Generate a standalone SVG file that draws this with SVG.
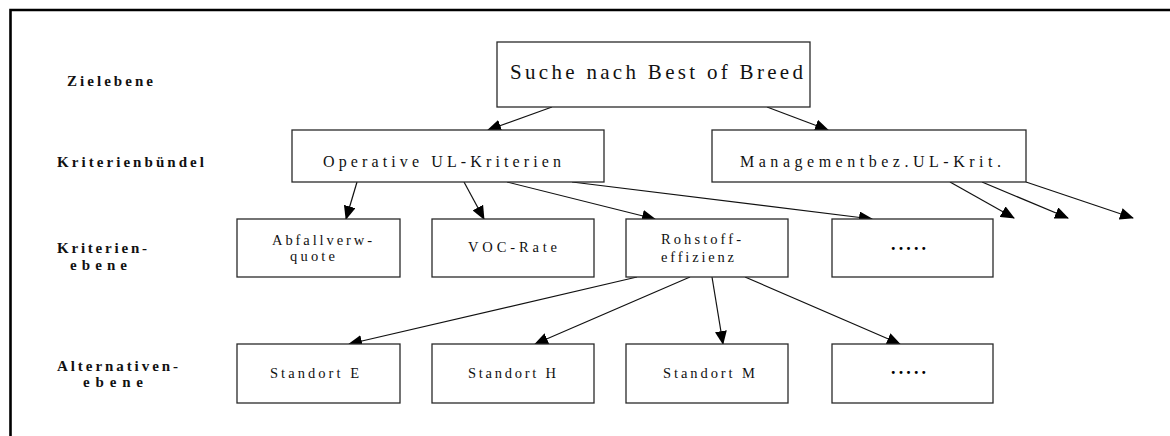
<svg xmlns="http://www.w3.org/2000/svg" width="1170" height="436" viewBox="0 0 1170 436">
  <style>
    .box { fill: #ffffff; stroke: #2a2a2a; stroke-width: 1.3; }
    .lbl { font-family: "Liberation Serif", "Times New Roman", serif; fill: #111111; }
    .lvl { font-family: "Liberation Serif", "Times New Roman", serif; font-weight: bold; font-size: 15px; fill: #111111; }
    .dots { font-family: "Liberation Serif", "Times New Roman", serif; font-weight: bold; font-size: 18px; fill: #000000; }
    .edge { stroke: #111111; stroke-width: 1.2; fill: none; marker-end: url(#arrow); }
  </style>
  <defs>
    <marker id="arrow" markerUnits="userSpaceOnUse" markerWidth="14" markerHeight="12" viewBox="0 0 14 12" refX="13" refY="6" orient="auto">
      <path d="M0,0 L14,6 L0,12 Z" fill="#000000"/>
    </marker>
  </defs>

  <rect width="1170" height="436" fill="#ffffff"/>
  <!-- frame -->
  <path d="M10.5,436 V10 H1170" fill="none" stroke="#000000" stroke-width="2.6"/>

  <!-- level captions -->
  <g id="levels">
    <text class="lvl" x="67" y="86" textLength="86" lengthAdjust="spacing">Zielebene</text>
    <text class="lvl" x="57" y="167" textLength="147" lengthAdjust="spacing">Kriterienbündel</text>
    <text class="lvl" x="57" y="253" textLength="90" lengthAdjust="spacing">Kriterien-</text>
    <text class="lvl" x="70" y="270" textLength="57" lengthAdjust="spacing">ebene</text>
    <text class="lvl" x="57" y="371" textLength="121" lengthAdjust="spacing">Alternativen-</text>
    <text class="lvl" x="83" y="387" textLength="60" lengthAdjust="spacing">ebene</text>
  </g>

  <!-- connectors -->
  <g id="connectors">
    <line class="edge" x1="552" y1="107" x2="488" y2="130"/>
    <line class="edge" x1="767" y1="107" x2="828" y2="130"/>
    <line class="edge" x1="357" y1="182" x2="346" y2="219"/>
    <line class="edge" x1="464" y1="182" x2="484" y2="219"/>
    <line class="edge" x1="507" y1="182" x2="655" y2="219"/>
    <line class="edge" x1="572" y1="182" x2="872" y2="219"/>
    <line class="edge" x1="950" y1="182" x2="1014" y2="218"/>
    <line class="edge" x1="982" y1="182" x2="1068" y2="218"/>
    <line class="edge" x1="1026" y1="182" x2="1133" y2="218"/>
    <line class="edge" x1="637" y1="277" x2="349" y2="344"/>
    <line class="edge" x1="690" y1="277" x2="535" y2="344"/>
    <line class="edge" x1="712" y1="277" x2="723" y2="344"/>
    <line class="edge" x1="745" y1="277" x2="900" y2="344"/>
  </g>

  <!-- goal -->
  <g id="goal">
    <rect class="box" x="497" y="42" width="313" height="65"/>
    <text class="lbl" x="510" y="79" font-size="21" textLength="293" lengthAdjust="spacing">Suche nach Best of Breed</text>
  </g>

  <!-- criteria bundles -->
  <g id="bundle-operative">
    <rect class="box" x="292" y="130" width="312" height="52"/>
    <text class="lbl" x="323" y="167" font-size="16" textLength="238" lengthAdjust="spacing">Operative UL-Kriterien</text>
  </g>
  <g id="bundle-management">
    <rect class="box" x="712" y="130" width="314" height="52"/>
    <text class="lbl" x="740" y="167" font-size="16" textLength="261" lengthAdjust="spacing">Managementbez.UL-Krit.</text>
  </g>

  <!-- criteria -->
  <g id="crit-abfall">
    <rect class="box" x="237" y="219" width="163" height="58"/>
    <text class="lbl" x="272" y="245" font-size="14.5" textLength="100" lengthAdjust="spacing">Abfallverw-</text>
    <text class="lbl" x="290" y="261" font-size="14.5" textLength="45" lengthAdjust="spacing">quote</text>
  </g>
  <g id="crit-voc">
    <rect class="box" x="432" y="219" width="162" height="58"/>
    <text class="lbl" x="468" y="252" font-size="14.5" textLength="89" lengthAdjust="spacing">VOC-Rate</text>
  </g>
  <g id="crit-rohstoff">
    <rect class="box" x="626" y="219" width="162" height="58"/>
    <text class="lbl" x="661" y="244" font-size="14.5" textLength="80" lengthAdjust="spacing">Rohstoff-</text>
    <text class="lbl" x="661" y="262" font-size="14.5" textLength="73" lengthAdjust="spacing">effizienz</text>
  </g>
  <g id="crit-more">
    <rect class="box" x="832" y="219" width="161" height="58"/>
    <text class="dots" x="891" y="250" textLength="35" lengthAdjust="spacing">.....</text>
  </g>

  <!-- alternatives -->
  <g id="alt-e">
    <rect class="box" x="237" y="344" width="163" height="59"/>
    <text class="lbl" x="270" y="378" font-size="14.5" textLength="89" lengthAdjust="spacing">Standort E</text>
  </g>
  <g id="alt-h">
    <rect class="box" x="432" y="344" width="162" height="59"/>
    <text class="lbl" x="468" y="378" font-size="14.5" textLength="88" lengthAdjust="spacing">Standort H</text>
  </g>
  <g id="alt-m">
    <rect class="box" x="626" y="344" width="162" height="59"/>
    <text class="lbl" x="663" y="378" font-size="14.5" textLength="92" lengthAdjust="spacing">Standort M</text>
  </g>
  <g id="alt-more">
    <rect class="box" x="832" y="344" width="161" height="59"/>
    <text class="dots" x="891" y="374" textLength="35" lengthAdjust="spacing">.....</text>
  </g>
</svg>
